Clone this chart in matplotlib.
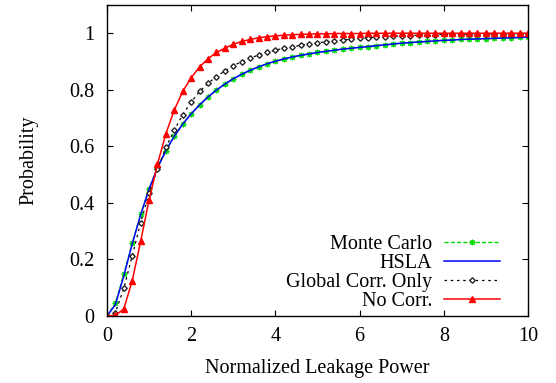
import numpy as np
import matplotlib
matplotlib.use("Agg")
import matplotlib.pyplot as plt

# leakage power grid (markers every 0.2)
x = np.round(np.arange(0, 10.01, 0.2), 1)

monte_carlo = [0.0, 0.045, 0.148, 0.258, 0.36, 0.45, 0.525, 0.585, 0.636, 0.679,
               0.715, 0.747, 0.775, 0.799, 0.82, 0.839, 0.855, 0.869, 0.881, 0.892,
               0.901, 0.909, 0.916, 0.922, 0.927, 0.932, 0.936, 0.94, 0.944, 0.947,
               0.95, 0.953, 0.956, 0.959, 0.962, 0.965, 0.967, 0.969, 0.971, 0.973,
               0.975, 0.976, 0.978, 0.979, 0.98, 0.981, 0.982, 0.983, 0.984, 0.985,
               0.986]
hsla = [0.0, 0.04, 0.142, 0.255, 0.358, 0.449, 0.524, 0.585, 0.636, 0.679,
        0.715, 0.747, 0.775, 0.799, 0.82, 0.839, 0.855, 0.869, 0.881, 0.892,
        0.901, 0.909, 0.916, 0.922, 0.927, 0.932, 0.936, 0.94, 0.944, 0.947,
        0.95, 0.953, 0.956, 0.959, 0.962, 0.965, 0.967, 0.969, 0.971, 0.973,
        0.975, 0.976, 0.978, 0.979, 0.98, 0.981, 0.982, 0.983, 0.984, 0.985,
        0.986]
global_corr = [0.0, 0.012, 0.098, 0.213, 0.33, 0.434, 0.52, 0.596, 0.658, 0.712,
               0.757, 0.794, 0.823, 0.847, 0.867, 0.885, 0.9, 0.912, 0.923, 0.932,
               0.94, 0.947, 0.952, 0.957, 0.962, 0.966, 0.97, 0.973, 0.976, 0.979,
               0.982, 0.984, 0.986, 0.988, 0.99, 0.991, 0.992, 0.993, 0.994, 0.995,
               0.996, 0.996, 0.997, 0.997, 0.998, 0.998, 0.998, 0.999, 0.999, 0.999,
               0.999]
no_corr = [0.0, 0.002, 0.025, 0.125, 0.264, 0.41, 0.537, 0.645, 0.729, 0.794,
           0.843, 0.881, 0.91, 0.932, 0.947, 0.961, 0.971, 0.978, 0.984, 0.988,
           0.991, 0.993, 0.995, 0.996, 0.997, 0.998, 0.998, 0.999, 0.999, 0.999,
           0.999, 1.0, 1.0, 1.0, 1.0, 1.0, 1.0, 1.0, 1.0, 1.0,
           1.0, 1.0, 1.0, 1.0, 1.0, 1.0, 1.0, 1.0, 1.0, 1.0,
           1.0]

plt.rcParams['font.family'] = ['Liberation Serif', 'DejaVu Serif']
plt.rcParams['font.size'] = 14.5

fig = plt.figure(figsize=(5.56, 3.83), dpi=100)
ax = fig.add_axes([0.1924, 0.175, 0.7572, 0.812])

ax.plot(x, monte_carlo, color='#00dd00', lw=1, ls=(0, (3, 1.5)),
        marker=(8, 2, 0), ms=4, mew=0.8, label='Monte Carlo')
ax.plot(x, hsla, color='#0000ff', lw=1.1, label='HSLA')
ax.plot(x, global_corr, color='black', lw=0.9, ls=(0, (2, 3)),
        marker='D', ms=2.8, mfc='white', mec='#222222', mew=1,
        label='Global Corr. Only')
ax.plot(x, no_corr, color='#ff0000', lw=1.1, marker='^', ms=4.2,
        label='No Corr.')

ax.set_xlim(0, 10)
ax.set_ylim(0, 1.1)
ax.set_xticks([0, 2, 4, 6, 8, 10])
ax.set_yticks([0, 0.2, 0.4, 0.6, 0.8, 1])
ax.set_yticklabels(['0', '0.2', '0.4', '0.6', '0.8', '1'])
ax.tick_params(direction='in', length=4, width=0.8, top=True, right=True)
ax.tick_params(axis='y', pad=9)
ax.tick_params(axis='x', pad=8)
for s in ax.spines.values():
    s.set_linewidth(1)

ax.set_xlabel('Normalized Leakage Power', labelpad=9)
ax.set_ylabel('Probability', labelpad=22)

leg = ax.legend(loc='lower right', markerfirst=False, frameon=False,
                bbox_to_anchor=(0.933, 0.015), borderaxespad=0, borderpad=0,
                handlelength=2.75, handletextpad=0.6, labelspacing=0.0)

fig.savefig('out.png', dpi=100)
